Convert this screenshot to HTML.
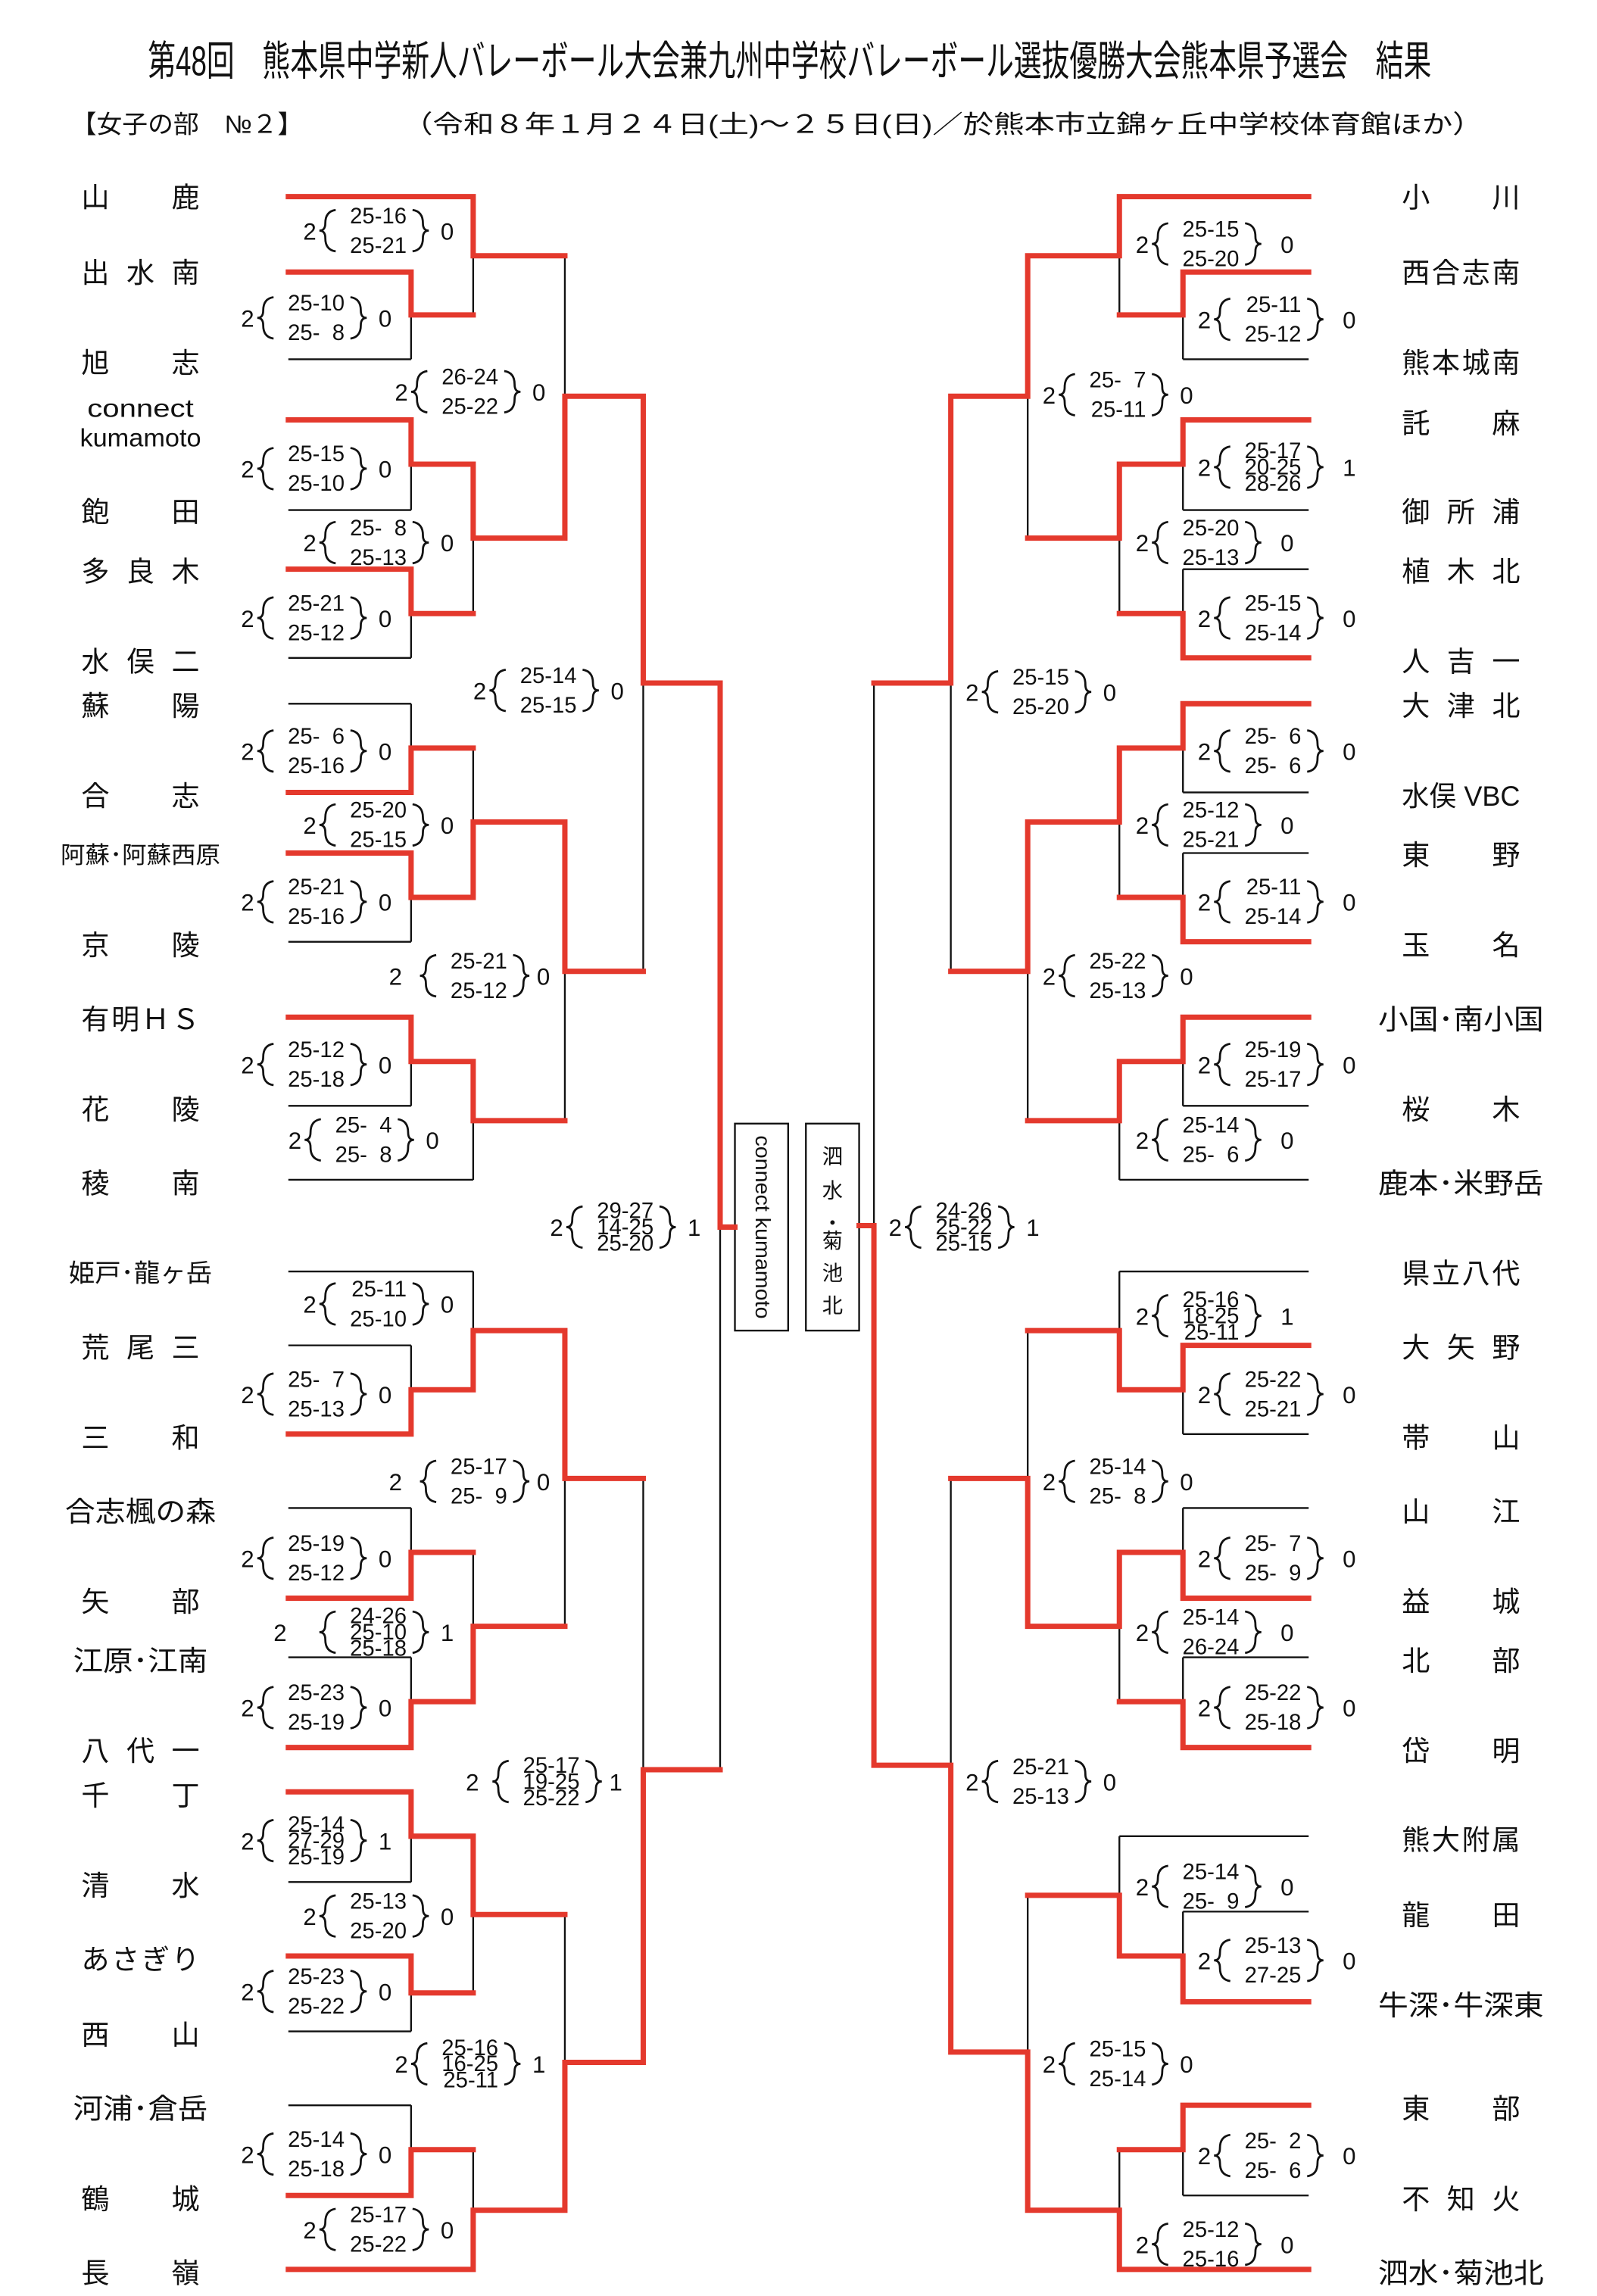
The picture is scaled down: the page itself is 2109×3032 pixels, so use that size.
<!DOCTYPE html>
<html><head><meta charset="utf-8">
<style>
html,body{margin:0;padding:0;background:#fff;}
svg{display:block;}
text{font-family:"Liberation Sans","Noto Sans CJK JP",sans-serif;fill:#111;}
.n{font-family:"Liberation Sans","Noto Sans CJK JP",sans-serif;font-size:19px;}
.s{font-size:15px;text-anchor:end;white-space:pre;}
.r{font-size:16px;}
.k{fill:none;stroke:#111;stroke-width:1.2;}
.red{fill:none;stroke:#e4392d;stroke-width:3.6;stroke-linejoin:miter;stroke-linecap:square;}
.br{fill:none;stroke:#111;stroke-width:1.4;}
</style></head>
<body>
<svg width="2109" height="3032" viewBox="0 0 1080 1553" preserveAspectRatio="none" xmlns="http://www.w3.org/2000/svg">
<defs>
<path id="bl" class="br" d="M22,-14 Q15,-13 15,-5 Q15,0 11,0 Q15,0 15,5 Q15,13 22,14"/>
<path id="brr" class="br" d="M74,-14 Q81,-13 81,-5 Q81,0 85,0 Q81,0 81,5 Q81,13 74,14"/>
</defs>
<rect width="1080" height="1553" fill="#fff"/>
<!-- Title -->
<text x="100" y="51" font-size="28" textLength="868" lengthAdjust="spacingAndGlyphs">第48回　熊本県中学新人バレーボール大会兼九州中学校バレーボール選抜優勝大会熊本県予選会　結果</text>
<text x="48" y="90" font-size="17" textLength="157" lengthAdjust="spacingAndGlyphs">【女子の部　№２】</text>
<text x="272" y="90" font-size="17" textLength="731" lengthAdjust="spacingAndGlyphs">（令和８年１月２４日(土)～２５日(日)／於熊本市立錦ヶ丘中学校体育館ほか）</text>

<!-- LEFT black lines -->
<g class="k">
<path d="M195,133H320M195,798H320M195,860H320M195,1535H320"/>
<path d="M195,184H278M195,243H278M195,284H278M195,345H278M195,385H278M195,445H278M195,476H278M195,536H278M195,577H278M195,637H278M195,688H278M195,748H278M195,910H278M195,970H278M195,1020H278M195,1081H278M195,1121H278M195,1182H278M195,1212H278M195,1273H278M195,1323H278M195,1374H278M195,1424H278M195,1485H278"/>
<path d="M278,184V243M320,133V213M278,284V345M278,385V445M320,314V415M382,173V364M278,476V536M278,577V637M320,506V607M278,688V748M320,718V798M382,556V758M435,268V657M278,910V970M320,860V940M278,1020V1081M278,1121V1182M320,1050V1151M382,900V1100M278,1212V1273M278,1323V1374M320,1242V1348M278,1424V1485M320,1454V1535M382,1295V1495M435,1000V1395M487,462V1197"/>
</g>
<!-- RIGHT black lines -->
<g class="k">
<path d="M885,133H757M885,798H757M885,860H757M885,1242H757M885,1535H757"/>
<path d="M885,184H800M885,243H800M885,284H800M885,345H800M885,385H800M885,445H800M885,476H800M885,536H800M885,577H800M885,637H800M885,688H800M885,748H800M885,910H800M885,970H800M885,1020H800M885,1081H800M885,1121H800M885,1182H800M885,1293H800M885,1354H800M885,1424H800M885,1485H800"/>
<path d="M800,184V243M757,133V213M800,284V345M800,385V445M757,314V415M695,173V364M800,476V536M800,577V637M757,506V607M800,688V748M757,718V798M695,556V758M643,268V657M800,910V970M757,860V940M800,1020V1081M800,1121V1182M757,1050V1151M695,900V1100M800,1293V1354M757,1242V1323M800,1424V1485M757,1454V1535M695,1282V1495M643,1000V1388M591,462V1194"/>
</g>
<!-- center boxes -->
<rect x="497" y="760" width="36" height="140" class="k"/>
<rect x="545" y="760" width="36" height="140" class="k"/>
<text transform="translate(511,830) rotate(90)" font-size="14" text-anchor="middle" textLength="124" lengthAdjust="spacingAndGlyphs">connect kumamoto</text>
<g font-size="14" text-anchor="middle">
<text x="563" y="787">泗</text><text x="563" y="810">水</text><text x="563" y="832">・</text><text x="563" y="844">菊</text><text x="563" y="866">池</text><text x="563" y="888">北</text>
</g>

<!-- RED paths -->
<g class="red">
<path d="M195,133H320V173H382"/>
<path d="M195,184H278V213H320"/>
<path d="M195,284H278V314H320V364H382V268H435V462H487V830H497"/>
<path d="M195,385H278V415H320"/>
<path d="M195,536H278V506H320"/>
<path d="M195,577H278V607H320V556H382V657H435"/>
<path d="M195,688H278V718H320V758H382"/>
<path d="M195,970H278V940H320V900H382V1000H435"/>
<path d="M195,1081H278V1050H320"/>
<path d="M195,1182H278V1151H320V1100H382"/>
<path d="M195,1212H278V1242H320V1295H382"/>
<path d="M195,1323H278V1348H320"/>
<path d="M195,1485H278V1454H320"/>
<path d="M195,1535H320V1495H382V1395H435V1197H487"/>

<path d="M885,133H757V173H695V268H643V462H591"/>
<path d="M885,184H800V213H757"/>
<path d="M885,284H800V314H757V364H695"/>
<path d="M885,445H800V415H757"/>
<path d="M885,476H800V506H757V556H695V657H643"/>
<path d="M885,637H800V607H757"/>
<path d="M885,688H800V718H757V758H695"/>
<path d="M885,910H800V940H757V900H695"/>
<path d="M885,1081H800V1050H757V1100H695V1000H643"/>
<path d="M885,1182H800V1151H757"/>
<path d="M885,1354H800V1323H757V1282H695"/>
<path d="M885,1424H800V1454H757"/>
<path d="M885,1535H757V1495H695V1388H643V1194H591V829H581"/>
</g>

<!-- LEFT names -->
<g class="n" text-anchor="middle">
<text x="95" y="140" textLength="80" lengthAdjust="spacing">山鹿</text>
<text x="95" y="191" textLength="80" lengthAdjust="spacing">出水南</text>
<text x="95" y="252" textLength="80" lengthAdjust="spacing">旭志</text>
<text x="95" y="282" font-size="17" textLength="72" lengthAdjust="spacingAndGlyphs">connect</text>
<text x="95" y="302" font-size="17" textLength="82" lengthAdjust="spacingAndGlyphs">kumamoto</text>
<text x="95" y="353" textLength="80" lengthAdjust="spacing">飽田</text>
<text x="95" y="393" textLength="80" lengthAdjust="spacing">多良木</text>
<text x="95" y="454" textLength="80" lengthAdjust="spacing">水俣二</text>
<text x="95" y="484" textLength="80" lengthAdjust="spacing">蘇陽</text>
<text x="95" y="545" textLength="80" lengthAdjust="spacing">合志</text>
<text x="95" y="584" font-size="16" textLength="108" lengthAdjust="spacingAndGlyphs">阿蘇･阿蘇西原</text>
<text x="95" y="646" textLength="80" lengthAdjust="spacing">京陵</text>
<text x="95" y="696" textLength="80" lengthAdjust="spacing">有明ＨＳ</text>
<text x="95" y="757" textLength="80" lengthAdjust="spacing">花陵</text>
<text x="95" y="807" textLength="80" lengthAdjust="spacing">稜南</text>
<text x="95" y="867" font-size="17" textLength="97" lengthAdjust="spacingAndGlyphs">姫戸･龍ヶ岳</text>
<text x="95" y="918" textLength="80" lengthAdjust="spacing">荒尾三</text>
<text x="95" y="979" textLength="80" lengthAdjust="spacing">三和</text>
<text x="95" y="1029" textLength="102" lengthAdjust="spacingAndGlyphs">合志楓の森</text>
<text x="95" y="1090" textLength="80" lengthAdjust="spacing">矢部</text>
<text x="95" y="1130" textLength="91" lengthAdjust="spacingAndGlyphs">江原･江南</text>
<text x="95" y="1191" textLength="80" lengthAdjust="spacing">八代一</text>
<text x="95" y="1221" textLength="80" lengthAdjust="spacing">千丁</text>
<text x="95" y="1282" textLength="80" lengthAdjust="spacing">清水</text>
<text x="95" y="1332" textLength="80" lengthAdjust="spacing">あさぎり</text>
<text x="95" y="1383" textLength="80" lengthAdjust="spacing">西山</text>
<text x="95" y="1433" textLength="91" lengthAdjust="spacingAndGlyphs">河浦･倉岳</text>
<text x="95" y="1494" textLength="80" lengthAdjust="spacing">鶴城</text>
<text x="95" y="1544" textLength="80" lengthAdjust="spacing">長嶺</text>
</g>
<!-- RIGHT names -->
<g class="n" text-anchor="middle">
<text x="988" y="140" textLength="80" lengthAdjust="spacing">小川</text>
<text x="988" y="191" textLength="80" lengthAdjust="spacing">西合志南</text>
<text x="988" y="252" textLength="80" lengthAdjust="spacing">熊本城南</text>
<text x="988" y="293" textLength="80" lengthAdjust="spacing">託麻</text>
<text x="988" y="353" textLength="80" lengthAdjust="spacing">御所浦</text>
<text x="988" y="393" textLength="80" lengthAdjust="spacing">植木北</text>
<text x="988" y="454" textLength="80" lengthAdjust="spacing">人吉一</text>
<text x="988" y="484" textLength="80" lengthAdjust="spacing">大津北</text>
<text x="988" y="545" textLength="80" lengthAdjust="spacingAndGlyphs">水俣 VBC</text>
<text x="988" y="585" textLength="80" lengthAdjust="spacing">東野</text>
<text x="988" y="646" textLength="80" lengthAdjust="spacing">玉名</text>
<text x="988" y="696" textLength="112" lengthAdjust="spacingAndGlyphs">小国･南小国</text>
<text x="988" y="757" textLength="80" lengthAdjust="spacing">桜木</text>
<text x="988" y="807" textLength="112" lengthAdjust="spacingAndGlyphs">鹿本･米野岳</text>
<text x="988" y="868" textLength="80" lengthAdjust="spacing">県立八代</text>
<text x="988" y="918" textLength="80" lengthAdjust="spacing">大矢野</text>
<text x="988" y="979" textLength="80" lengthAdjust="spacing">帯山</text>
<text x="988" y="1029" textLength="80" lengthAdjust="spacing">山江</text>
<text x="988" y="1090" textLength="80" lengthAdjust="spacing">益城</text>
<text x="988" y="1130" textLength="80" lengthAdjust="spacing">北部</text>
<text x="988" y="1191" textLength="80" lengthAdjust="spacing">岱明</text>
<text x="988" y="1251" textLength="80" lengthAdjust="spacing">熊大附属</text>
<text x="988" y="1302" textLength="80" lengthAdjust="spacing">龍田</text>
<text x="988" y="1363" textLength="112" lengthAdjust="spacingAndGlyphs">牛深･牛深東</text>
<text x="988" y="1433" textLength="80" lengthAdjust="spacing">東部</text>
<text x="988" y="1494" textLength="80" lengthAdjust="spacing">不知火</text>
<text x="988" y="1544" textLength="112" lengthAdjust="spacingAndGlyphs">泗水･菊池北</text>
</g>

<!-- SCORES LEFT -->
<g transform="translate(205,156)"><text class="r" y="6">2</text><use href="#bl"/><text class="s" x="70" y="-5">25-16</text><text class="s" x="70" y="15">25-21</text><use href="#brr"/><text class="r" x="93" y="6">0</text></g>
<g transform="translate(163,215)"><text class="r" y="6">2</text><use href="#bl"/><text class="s" x="70" y="-5">25-10</text><text class="s" x="70" y="15">25-  8</text><use href="#brr"/><text class="r" x="93" y="6">0</text></g>
<g transform="translate(267,265)"><text class="r" y="6">2</text><use href="#bl"/><text class="s" x="70" y="-5">26-24</text><text class="s" x="70" y="15">25-22</text><use href="#brr"/><text class="r" x="93" y="6">0</text></g>
<g transform="translate(163,317)"><text class="r" y="6">2</text><use href="#bl"/><text class="s" x="70" y="-5">25-15</text><text class="s" x="70" y="15">25-10</text><use href="#brr"/><text class="r" x="93" y="6">0</text></g>
<g transform="translate(205,367)"><text class="r" y="6">2</text><use href="#bl"/><text class="s" x="70" y="-5">25-  8</text><text class="s" x="70" y="15">25-13</text><use href="#brr"/><text class="r" x="93" y="6">0</text></g>
<g transform="translate(163,418)"><text class="r" y="6">2</text><use href="#bl"/><text class="s" x="70" y="-5">25-21</text><text class="s" x="70" y="15">25-12</text><use href="#brr"/><text class="r" x="93" y="6">0</text></g>
<g transform="translate(320,467)"><text class="r" y="6">2</text><use href="#bl"/><text class="s" x="70" y="-5">25-14</text><text class="s" x="70" y="15">25-15</text><use href="#brr"/><text class="r" x="93" y="6">0</text></g>
<g transform="translate(163,508)"><text class="r" y="6">2</text><use href="#bl"/><text class="s" x="70" y="-5">25-  6</text><text class="s" x="70" y="15">25-16</text><use href="#brr"/><text class="r" x="93" y="6">0</text></g>
<g transform="translate(205,558)"><text class="r" y="6">2</text><use href="#bl"/><text class="s" x="70" y="-5">25-20</text><text class="s" x="70" y="15">25-15</text><use href="#brr"/><text class="r" x="93" y="6">0</text></g>
<g transform="translate(163,610)"><text class="r" y="6">2</text><use href="#bl"/><text class="s" x="70" y="-5">25-21</text><text class="s" x="70" y="15">25-16</text><use href="#brr"/><text class="r" x="93" y="6">0</text></g>
<g transform="translate(273,660)"><text class="r" x="-10" y="6">2</text><use href="#bl"/><text class="s" x="70" y="-5">25-21</text><text class="s" x="70" y="15">25-12</text><use href="#brr"/><text class="r" x="90" y="6">0</text></g>
<g transform="translate(163,720)"><text class="r" y="6">2</text><use href="#bl"/><text class="s" x="70" y="-5">25-12</text><text class="s" x="70" y="15">25-18</text><use href="#brr"/><text class="r" x="93" y="6">0</text></g>
<g transform="translate(195,771)"><text class="r" y="6">2</text><use href="#bl"/><text class="s" x="70" y="-5">25-  4</text><text class="s" x="70" y="15">25-  8</text><use href="#brr"/><text class="r" x="93" y="6">0</text></g>
<g transform="translate(372,830)"><text class="r" y="6">2</text><use href="#bl"/><text class="s" x="70" y="-6">29-27</text><text class="s" x="70" y="5">14-25</text><text class="s" x="70" y="16">25-20</text><use href="#brr"/><text class="r" x="93" y="6">1</text></g>
<g transform="translate(205,882)"><text class="r" y="6">2</text><use href="#bl"/><text class="s" x="70" y="-5">25-11</text><text class="s" x="70" y="15">25-10</text><use href="#brr"/><text class="r" x="93" y="6">0</text></g>
<g transform="translate(163,943)"><text class="r" y="6">2</text><use href="#bl"/><text class="s" x="70" y="-5">25-  7</text><text class="s" x="70" y="15">25-13</text><use href="#brr"/><text class="r" x="93" y="6">0</text></g>
<g transform="translate(273,1002)"><text class="r" x="-10" y="6">2</text><use href="#bl"/><text class="s" x="70" y="-5">25-17</text><text class="s" x="70" y="15">25-  9</text><use href="#brr"/><text class="r" x="90" y="6">0</text></g>
<g transform="translate(163,1054)"><text class="r" y="6">2</text><use href="#bl"/><text class="s" x="70" y="-5">25-19</text><text class="s" x="70" y="15">25-12</text><use href="#brr"/><text class="r" x="93" y="6">0</text></g>
<g transform="translate(205,1104)"><text class="r" x="-20" y="6">2</text><use href="#bl"/><text class="s" x="70" y="-6">24-26</text><text class="s" x="70" y="5">25-10</text><text class="s" x="70" y="16">25-18</text><use href="#brr"/><text class="r" x="93" y="6">1</text></g>
<g transform="translate(163,1155)"><text class="r" y="6">2</text><use href="#bl"/><text class="s" x="70" y="-5">25-23</text><text class="s" x="70" y="15">25-19</text><use href="#brr"/><text class="r" x="93" y="6">0</text></g>
<g transform="translate(322,1205)"><text class="r" x="-7" y="6">2</text><use href="#bl"/><text class="s" x="70" y="-6">25-17</text><text class="s" x="70" y="5">19-25</text><text class="s" x="70" y="16">25-22</text><use href="#brr"/><text class="r" x="90" y="6">1</text></g>
<g transform="translate(163,1245)"><text class="r" y="6">2</text><use href="#bl"/><text class="s" x="70" y="-6">25-14</text><text class="s" x="70" y="5">27-29</text><text class="s" x="70" y="16">25-19</text><use href="#brr"/><text class="r" x="93" y="6">1</text></g>
<g transform="translate(205,1296)"><text class="r" y="6">2</text><use href="#bl"/><text class="s" x="70" y="-5">25-13</text><text class="s" x="70" y="15">25-20</text><use href="#brr"/><text class="r" x="93" y="6">0</text></g>
<g transform="translate(163,1347)"><text class="r" y="6">2</text><use href="#bl"/><text class="s" x="70" y="-5">25-23</text><text class="s" x="70" y="15">25-22</text><use href="#brr"/><text class="r" x="93" y="6">0</text></g>
<g transform="translate(267,1396)"><text class="r" y="6">2</text><use href="#bl"/><text class="s" x="70" y="-6">25-16</text><text class="s" x="70" y="5">16-25</text><text class="s" x="70" y="16">25-11</text><use href="#brr"/><text class="r" x="93" y="6">1</text></g>
<g transform="translate(163,1457)"><text class="r" y="6">2</text><use href="#bl"/><text class="s" x="70" y="-5">25-14</text><text class="s" x="70" y="15">25-18</text><use href="#brr"/><text class="r" x="93" y="6">0</text></g>
<g transform="translate(205,1508)"><text class="r" y="6">2</text><use href="#bl"/><text class="s" x="70" y="-5">25-17</text><text class="s" x="70" y="15">25-22</text><use href="#brr"/><text class="r" x="93" y="6">0</text></g>

<!-- SCORES RIGHT -->
<g transform="translate(768,165)"><text class="r" y="6">2</text><use href="#bl"/><text class="s" x="70" y="-5">25-15</text><text class="s" x="70" y="15">25-20</text><use href="#brr"/><text class="r" x="98" y="6">0</text></g>
<g transform="translate(810,216)"><text class="r" y="6">2</text><use href="#bl"/><text class="s" x="70" y="-5">25-11</text><text class="s" x="70" y="15">25-12</text><use href="#brr"/><text class="r" x="98" y="6">0</text></g>
<g transform="translate(705,267)"><text class="r" y="6">2</text><use href="#bl"/><text class="s" x="70" y="-5">25-  7</text><text class="s" x="70" y="15">25-11</text><use href="#brr"/><text class="r" x="93" y="6">0</text></g>
<g transform="translate(810,316)"><text class="r" y="6">2</text><use href="#bl"/><text class="s" x="70" y="-6">25-17</text><text class="s" x="70" y="5">20-25</text><text class="s" x="70" y="16">28-26</text><use href="#brr"/><text class="r" x="98" y="6">1</text></g>
<g transform="translate(768,367)"><text class="r" y="6">2</text><use href="#bl"/><text class="s" x="70" y="-5">25-20</text><text class="s" x="70" y="15">25-13</text><use href="#brr"/><text class="r" x="98" y="6">0</text></g>
<g transform="translate(810,418)"><text class="r" y="6">2</text><use href="#bl"/><text class="s" x="70" y="-5">25-15</text><text class="s" x="70" y="15">25-14</text><use href="#brr"/><text class="r" x="98" y="6">0</text></g>
<g transform="translate(653,468)"><text class="r" y="6">2</text><use href="#bl"/><text class="s" x="70" y="-5">25-15</text><text class="s" x="70" y="15">25-20</text><use href="#brr"/><text class="r" x="93" y="6">0</text></g>
<g transform="translate(810,508)"><text class="r" y="6">2</text><use href="#bl"/><text class="s" x="70" y="-5">25-  6</text><text class="s" x="70" y="15">25-  6</text><use href="#brr"/><text class="r" x="98" y="6">0</text></g>
<g transform="translate(768,558)"><text class="r" y="6">2</text><use href="#bl"/><text class="s" x="70" y="-5">25-12</text><text class="s" x="70" y="15">25-21</text><use href="#brr"/><text class="r" x="98" y="6">0</text></g>
<g transform="translate(810,610)"><text class="r" y="6">2</text><use href="#bl"/><text class="s" x="70" y="-5">25-11</text><text class="s" x="70" y="15">25-14</text><use href="#brr"/><text class="r" x="98" y="6">0</text></g>
<g transform="translate(705,660)"><text class="r" y="6">2</text><use href="#bl"/><text class="s" x="70" y="-5">25-22</text><text class="s" x="70" y="15">25-13</text><use href="#brr"/><text class="r" x="93" y="6">0</text></g>
<g transform="translate(810,720)"><text class="r" y="6">2</text><use href="#bl"/><text class="s" x="70" y="-5">25-19</text><text class="s" x="70" y="15">25-17</text><use href="#brr"/><text class="r" x="98" y="6">0</text></g>
<g transform="translate(768,771)"><text class="r" y="6">2</text><use href="#bl"/><text class="s" x="70" y="-5">25-14</text><text class="s" x="70" y="15">25-  6</text><use href="#brr"/><text class="r" x="98" y="6">0</text></g>
<g transform="translate(601,830)"><text class="r" y="6">2</text><use href="#bl"/><text class="s" x="70" y="-6">24-26</text><text class="s" x="70" y="5">25-22</text><text class="s" x="70" y="16">25-15</text><use href="#brr"/><text class="r" x="93" y="6">1</text></g>
<g transform="translate(768,890)"><text class="r" y="6">2</text><use href="#bl"/><text class="s" x="70" y="-6">25-16</text><text class="s" x="70" y="5">18-25</text><text class="s" x="70" y="16">25-11</text><use href="#brr"/><text class="r" x="98" y="6">1</text></g>
<g transform="translate(810,943)"><text class="r" y="6">2</text><use href="#bl"/><text class="s" x="70" y="-5">25-22</text><text class="s" x="70" y="15">25-21</text><use href="#brr"/><text class="r" x="98" y="6">0</text></g>
<g transform="translate(705,1002)"><text class="r" y="6">2</text><use href="#bl"/><text class="s" x="70" y="-5">25-14</text><text class="s" x="70" y="15">25-  8</text><use href="#brr"/><text class="r" x="93" y="6">0</text></g>
<g transform="translate(810,1054)"><text class="r" y="6">2</text><use href="#bl"/><text class="s" x="70" y="-5">25-  7</text><text class="s" x="70" y="15">25-  9</text><use href="#brr"/><text class="r" x="98" y="6">0</text></g>
<g transform="translate(768,1104)"><text class="r" y="6">2</text><use href="#bl"/><text class="s" x="70" y="-5">25-14</text><text class="s" x="70" y="15">26-24</text><use href="#brr"/><text class="r" x="98" y="6">0</text></g>
<g transform="translate(810,1155)"><text class="r" y="6">2</text><use href="#bl"/><text class="s" x="70" y="-5">25-22</text><text class="s" x="70" y="15">25-18</text><use href="#brr"/><text class="r" x="98" y="6">0</text></g>
<g transform="translate(653,1205)"><text class="r" y="6">2</text><use href="#bl"/><text class="s" x="70" y="-5">25-21</text><text class="s" x="70" y="15">25-13</text><use href="#brr"/><text class="r" x="93" y="6">0</text></g>
<g transform="translate(768,1276)"><text class="r" y="6">2</text><use href="#bl"/><text class="s" x="70" y="-5">25-14</text><text class="s" x="70" y="15">25-  9</text><use href="#brr"/><text class="r" x="98" y="6">0</text></g>
<g transform="translate(810,1326)"><text class="r" y="6">2</text><use href="#bl"/><text class="s" x="70" y="-5">25-13</text><text class="s" x="70" y="15">27-25</text><use href="#brr"/><text class="r" x="98" y="6">0</text></g>
<g transform="translate(705,1396)"><text class="r" y="6">2</text><use href="#bl"/><text class="s" x="70" y="-5">25-15</text><text class="s" x="70" y="15">25-14</text><use href="#brr"/><text class="r" x="93" y="6">0</text></g>
<g transform="translate(810,1458)"><text class="r" y="6">2</text><use href="#bl"/><text class="s" x="70" y="-5">25-  2</text><text class="s" x="70" y="15">25-  6</text><use href="#brr"/><text class="r" x="98" y="6">0</text></g>
<g transform="translate(768,1518)"><text class="r" y="6">2</text><use href="#bl"/><text class="s" x="70" y="-5">25-12</text><text class="s" x="70" y="15">25-16</text><use href="#brr"/><text class="r" x="98" y="6">0</text></g>
</svg>
</body></html>
